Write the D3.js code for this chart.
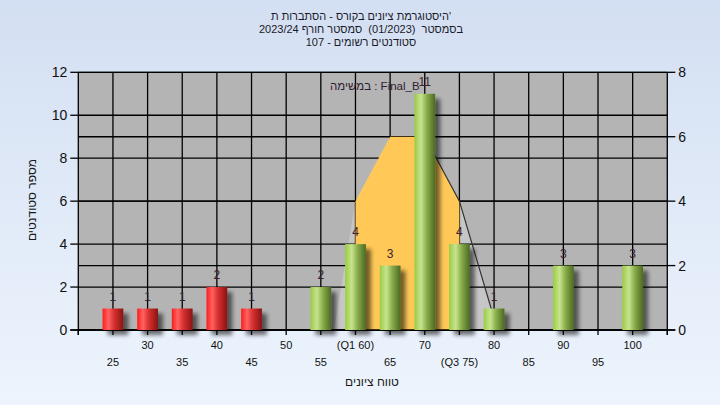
<!DOCTYPE html>
<html><head><meta charset="utf-8">
<script src="https://cdn.jsdelivr.net/npm/d3@7"></script>
<style>html,body{margin:0;padding:0;}svg{display:block;font-family:"Liberation Sans",Arial,sans-serif;}text{white-space:pre;}</style>
</head><body>
<svg id="c" width="720" height="405"></svg>
<script>
const titleLines = ["היסטוגרמת ציונים בקורס - הסתברות ת'", "בסמסטר  (01/2023)  סמסטר חורף 2023/24", "סטודנטים רשומים - 107"];
const binCenters = [25,30,35,40,45,50,55,60,65,70,75,80,85,90,95,100];
const counts = [1,1,1,2,1,0,2,4,3,11,4,1,0,3,0,3];
const passMark = 50;
const curveX = [56.9,60,65,70,75,80.5];
const curveY = [0,4,6,6,4,0];
const q1 = 60, q3 = 75;
const xTickValues = [25,30,35,40,45,50,55,60,65,70,75,80,85,90,95,100];
const xTickLabels = ["25","30","35","40","45","50","55","(Q1 60)","65","70","(Q3 75)","80","85","90","95","100"];
const yLeftTicks = [0,2,4,6,8,10,12];
const yRightTicks = [0,2,4,6,8];
const yTitle = "מספר סטודנטים";
const xTitle = "טווח ציונים";
const noteText = "במשימה : Final_B";

const svg = d3.select("#c");
const L = 78.3, R = 667.3, T = 72.3, B = 330;
const x = d3.scaleLinear().domain([20,105]).range([L,R]);
const yL = d3.scaleLinear().domain([0,12]).range([B,T]);
const yR = d3.scaleLinear().domain([0,8]).range([B,T]);

const defs = svg.append("defs");
const bg = defs.append("linearGradient").attr("id","bg").attr("x1",0).attr("y1",0).attr("x2",0).attr("y2",1);
bg.append("stop").attr("offset","0%").attr("stop-color","#d3dff2");
bg.append("stop").attr("offset","100%").attr("stop-color","#edf4fd");
const gr = defs.append("linearGradient").attr("id","gRed");
[[0,"#ff1c1c"],[0.28,"#ff6262"],[0.55,"#d83030"],[1,"#881414"]].forEach(s=>gr.append("stop").attr("offset",s[0]).attr("stop-color",s[1]));
const gg = defs.append("linearGradient").attr("id","gGreen");
[[0,"#9ccb44"],[0.32,"#c6e48e"],[0.6,"#8aac4a"],[1,"#4a6a22"]].forEach(s=>gg.append("stop").attr("offset",s[0]).attr("stop-color",s[1]));
const f = defs.append("filter").attr("id","sh").attr("x","-50%").attr("y","-50%").attr("width","200%").attr("height","200%");
f.append("feGaussianBlur").attr("in","SourceAlpha").attr("stdDeviation",2.2).attr("result","b");
f.append("feOffset").attr("in","b").attr("dx",5).attr("dy",5).attr("result","o");
f.append("feComponentTransfer").attr("in","o").attr("result","o2").append("feFuncA").attr("type","linear").attr("slope",0.55);
const fm = f.append("feMerge"); fm.append("feMergeNode").attr("in","o2"); fm.append("feMergeNode").attr("in","SourceGraphic");

svg.append("rect").attr("width",720).attr("height",405).attr("fill","url(#bg)");

// titles
svg.selectAll("text.title").data(titleLines).enter().append("text")
  .attr("x",361).attr("y",(d,i)=>20+i*13).attr("text-anchor","middle")
  .attr("font-size",11).attr("fill","#1a1a2a").text(d=>d);

// plot bg
svg.append("rect").attr("x",L).attr("y",T).attr("width",R-L).attr("height",B-T).attr("fill","#b4b4b4");

const pts = curveX.map((v,i)=>[v,curveY[i]]);
// light area under curve
svg.append("path").attr("d", d3.area().x(d=>x(d[0])).y0(B).y1(d=>yR(d[1]))(pts)).attr("fill","#c6c6c6");

// gridlines
const g = svg.append("g").attr("stroke","#000").attr("stroke-width",1.3);
yLeftTicks.forEach(v=>g.append("line").attr("x1",L).attr("x2",R).attr("y1",yL(v)).attr("y2",yL(v)));
yRightTicks.forEach(v=>g.append("line").attr("x1",L).attr("x2",R).attr("y1",yR(v)).attr("y2",yR(v)));
xTickValues.forEach(v=>g.append("line").attr("x1",x(v)).attr("x2",x(v)).attr("y1",T).attr("y2",B));

// orange IQR area
const iqr = [[q1,0]].concat(pts.filter(p=>p[0]>=q1&&p[0]<=q3)).concat([[q3,0]]);
svg.append("path").attr("d", d3.line().x(d=>x(d[0])).y(d=>yR(d[1]))(iqr)).attr("fill","#ffc857");

// curve line (right part)
svg.append("path").attr("d", d3.line().x(d=>x(d[0])).y(d=>yR(d[1]))(pts.filter(p=>p[0]>=70)))
  .attr("fill","none").attr("stroke","#333").attr("stroke-width",1.2);

// axes
const ax = svg.append("g").attr("stroke","#000").attr("stroke-width",1.3);
ax.append("line").attr("x1",L).attr("x2",L).attr("y1",T).attr("y2",B+5);
ax.append("line").attr("x1",R).attr("x2",R).attr("y1",T).attr("y2",B+5);
ax.append("line").attr("x1",L-8).attr("x2",R+8).attr("y1",B).attr("y2",B);
yLeftTicks.forEach(v=>ax.append("line").attr("x1",L-8).attr("x2",L).attr("y1",yL(v)).attr("y2",yL(v)));
yRightTicks.forEach(v=>ax.append("line").attr("x1",R).attr("x2",R+8).attr("y1",yR(v)).attr("y2",yR(v)));
xTickValues.concat([20,105]).forEach(v=>ax.append("line").attr("x1",x(v)).attr("x2",x(v)).attr("y1",B).attr("y2",B+5));

// bars
const bw = x(23)-x(20);
const bars = binCenters.map((c,i)=>({c, n:counts[i]})).filter(d=>d.n>0);
svg.append("g").selectAll("rect").data(bars).enter().append("rect")
  .attr("x",d=>x(d.c)-bw/2).attr("width",bw)
  .attr("y",d=>yL(d.n)).attr("height",d=>B-yL(d.n))
  .attr("fill",d=>d.c<passMark?"url(#gRed)":"url(#gGreen)")
  .attr("filter","url(#sh)");
svg.append("g").selectAll("text").data(bars).enter().append("text")
  .attr("x",d=>x(d.c)).attr("y",d=>yL(d.n)-8).attr("text-anchor","middle")
  .attr("font-size",12).attr("fill","#3a2030").text(d=>d.n);

// tick labels
svg.append("g").selectAll("text").data(yLeftTicks).enter().append("text")
  .attr("x",L-11).attr("y",d=>yL(d)+5).attr("text-anchor","end").attr("font-size",14).attr("fill","#111").text(d=>d);
svg.append("g").selectAll("text").data(yRightTicks).enter().append("text")
  .attr("x",R+11).attr("y",d=>yR(d)+5).attr("text-anchor","start").attr("font-size",14).attr("fill","#111").text(d=>d);
svg.append("g").selectAll("text").data(xTickValues).enter().append("text")
  .attr("x",d=>x(d)).attr("y",(d,i)=>i%2===1?349:366).attr("text-anchor","middle")
  .attr("font-size",11).attr("fill","#111").text((d,i)=>xTickLabels[i]);

svg.append("text").attr("transform","translate(36,200) rotate(-90)").attr("text-anchor","middle")
  .attr("font-size",12).attr("fill","#1a1a1a").text(yTitle);
svg.append("text").attr("x",372).attr("y",386).attr("text-anchor","middle")
  .attr("font-size",12).attr("fill","#1a1a1a").text(xTitle);
svg.append("text").attr("x",330).attr("y",90).attr("font-size",11.5).attr("fill","#302030").text(noteText);
</script>
</body></html>
